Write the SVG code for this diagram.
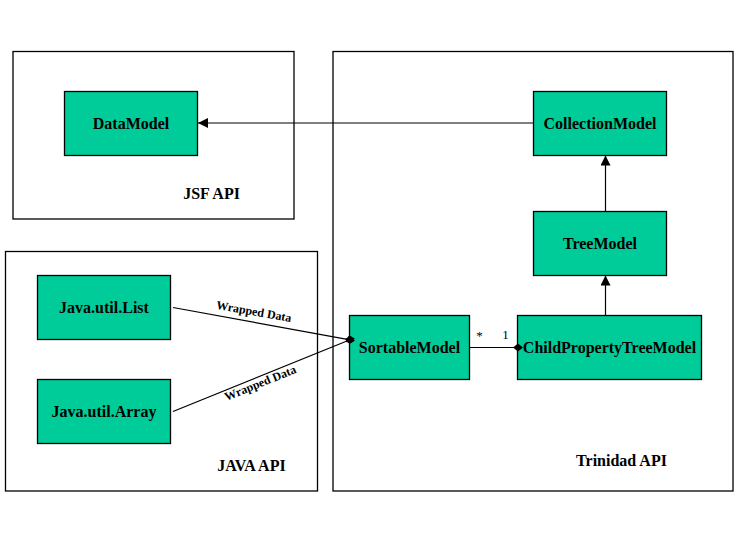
<svg xmlns="http://www.w3.org/2000/svg" width="741" height="545" viewBox="0 0 741 545">
<style>
.pkg{fill:#ffffff;stroke:#000000;stroke-width:1.3}
.node rect{fill:#00cc99;stroke:#000000;stroke-width:1.3}
.lbl{font-family:"Liberation Serif","Times New Roman",serif;font-weight:bold;font-size:16px;fill:#000000;text-anchor:middle}
.small{font-family:"Liberation Serif","Times New Roman",serif;font-weight:bold;font-size:12px;fill:#000000;text-anchor:middle}
.mult{font-family:"Liberation Serif","Times New Roman",serif;font-size:13px;fill:#000000;text-anchor:middle}
.conn{stroke:#000000;stroke-width:1.2;fill:none}
</style>
<defs>
<marker id="arrow" viewBox="0 0 10 10" refX="10" refY="5" markerWidth="10" markerHeight="10" markerUnits="userSpaceOnUse" orient="auto">
<path d="M0,0 L10,5 L0,10 Z" fill="#000000"/>
</marker>
<marker id="diamond" viewBox="0 0 10 8" refX="5" refY="4" markerWidth="10" markerHeight="8" markerUnits="userSpaceOnUse" orient="auto">
<path d="M0,4 L5,0 L10,4 L5,8 Z" fill="#000000"/>
</marker>
</defs>
<rect width="741" height="545" fill="#ffffff"/>
<g id="packages">
<g id="pkg-jsf"><rect class="pkg" x="13" y="51.5" width="281" height="167.5"/><text class="lbl" x="211.5" y="199">JSF API</text></g>
<g id="pkg-java"><rect class="pkg" x="5.5" y="251.5" width="312" height="239.5"/><text class="lbl" x="251.5" y="470.5">JAVA API</text></g>
<g id="pkg-trinidad"><rect class="pkg" x="333" y="51.5" width="400" height="439.5"/><text class="lbl" x="621.5" y="466">Trinidad API</text></g>
</g>
<g id="node-datamodel" class="node"><rect x="64.5" y="91.5" width="133" height="64"/><text class="lbl" x="131" y="129">DataModel</text></g>
<g id="node-collectionmodel" class="node"><rect x="533.5" y="91.5" width="133" height="64"/><text class="lbl" x="600" y="129">CollectionModel</text></g>
<g id="node-treemodel" class="node"><rect x="533.5" y="211.5" width="133" height="64"/><text class="lbl" x="600" y="249">TreeModel</text></g>
<g id="node-list" class="node"><rect x="37.5" y="275.5" width="133" height="64"/><text class="lbl" x="104" y="313">Java.util.List</text></g>
<g id="node-array" class="node"><rect x="37.5" y="379.5" width="133" height="64"/><text class="lbl" x="104" y="417">Java.util.Array</text></g>
<g id="node-sortable" class="node"><rect x="349.5" y="315.5" width="120" height="64"/><text class="lbl" x="409.5" y="353">SortableModel</text></g>
<g id="node-cptm" class="node"><rect x="517.5" y="315.5" width="184" height="64"/><text class="lbl" x="609.5" y="353">ChildPropertyTreeModel</text></g>
<g id="connectors">
<line class="conn" x1="533" y1="123" x2="198" y2="123" marker-end="url(#arrow)"/>
<line class="conn" x1="605.5" y1="211.5" x2="605.5" y2="155.5" marker-end="url(#arrow)"/>
<line class="conn" x1="605.5" y1="315" x2="605.5" y2="275.5" marker-end="url(#arrow)"/>
<line class="conn" x1="469.5" y1="347.5" x2="518" y2="347.5" marker-end="url(#diamond)"/>
<line class="conn" x1="173" y1="307.5" x2="350" y2="339.8" marker-end="url(#diamond)"/>
<line class="conn" x1="173" y1="411.5" x2="350" y2="339.8" marker-end="url(#diamond)"/>
<text class="small" transform="translate(253.2,315.4) rotate(10.2)">Wrapped Data</text>
<text class="small" transform="translate(261.8,386.7) rotate(-22.1)">Wrapped Data</text>
<text class="mult" x="479.5" y="340">*</text>
<text class="mult" x="505.5" y="339">1</text>
</g>
</svg>
